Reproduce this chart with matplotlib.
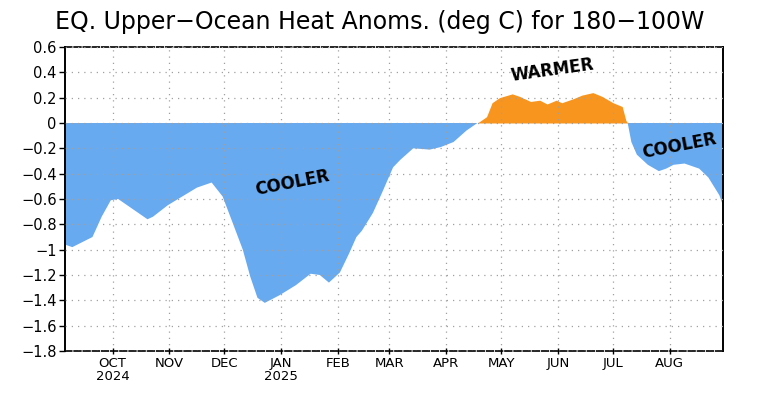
import matplotlib
matplotlib.use("Agg")
import matplotlib.pyplot as plt
import matplotlib.dates as mdates
import numpy as np

# data (dates, anomaly in deg C)
dates = ["2024-09-05", "2024-09-09", "2024-09-20", "2024-09-25", "2024-09-30",
         "2024-10-04", "2024-10-10", "2024-10-20", "2024-10-23", "2024-10-31",
         "2024-11-08", "2024-11-16", "2024-11-24", "2024-11-30", "2024-12-05",
         "2024-12-11", "2024-12-15", "2024-12-19", "2024-12-23", "2024-12-31",
         "2025-01-09", "2025-01-17", "2025-01-22", "2025-01-27", "2025-02-02",
         "2025-02-07", "2025-02-11", "2025-02-14", "2025-02-20", "2025-02-25",
         "2025-03-03", "2025-03-07", "2025-03-14", "2025-03-23", "2025-03-29",
         "2025-04-05", "2025-04-12", "2025-04-18", "2025-04-23", "2025-04-26",
         "2025-04-30", "2025-05-07", "2025-05-11", "2025-05-17", "2025-05-22",
         "2025-05-26", "2025-05-31", "2025-06-03", "2025-06-09", "2025-06-14",
         "2025-06-20", "2025-06-25", "2025-07-01", "2025-07-06", "2025-07-08",
         "2025-07-09", "2025-07-11", "2025-07-14", "2025-07-20", "2025-07-26",
         "2025-07-30", "2025-08-03", "2025-08-09", "2025-08-17", "2025-08-22",
         "2025-08-28", "2025-08-30"]
anom = [-0.96, -0.98, -0.90, -0.74, -0.61,
        -0.60, -0.66, -0.76, -0.74, -0.65,
        -0.58, -0.51, -0.47, -0.58, -0.77,
        -1.00, -1.21, -1.38, -1.42, -1.36,
        -1.28, -1.19, -1.20, -1.26, -1.18,
        -1.03, -0.90, -0.85, -0.71, -0.55,
        -0.35, -0.29, -0.20, -0.21, -0.19,
        -0.15, -0.06, 0.00, 0.05, 0.16,
        0.20, 0.23, 0.21, 0.17, 0.18,
        0.15, 0.18, 0.16, 0.19, 0.22,
        0.24, 0.21, 0.16, 0.13, 0.02,
        0.00, -0.15, -0.25, -0.33, -0.38,
        -0.36, -0.33, -0.32, -0.36, -0.43,
        -0.57, -0.65]

month_ticks = ["2024-10-01", "2024-11-01", "2024-12-01", "2025-01-01", "2025-02-01",
               "2025-03-01", "2025-04-01", "2025-05-01", "2025-06-01", "2025-07-01",
               "2025-08-01"]
month_labels = ["OCT\n2024", "NOV", "DEC", "JAN\n2025", "FEB", "MAR", "APR",
                "MAY", "JUN", "JUL", "AUG"]
y_ticks = np.arange(-1.8, 0.61, 0.2)

t = np.array(dates, dtype="datetime64[D]").astype("O")
v = np.array(anom)

fig = plt.figure(figsize=(7.6, 3.95), dpi=100)
ax = fig.add_axes([65 / 760, 1 - 351 / 395, (723 - 65) / 760, (351 - 47) / 395])

blue = "#68aaef"
orange = "#f7951f"
xt = mdates.date2num(t)
ax.fill_between(xt, v, 0, where=v <= 0, interpolate=True, color=blue, lw=0, zorder=1)
ax.fill_between(xt, v, 0, where=v >= 0, interpolate=True, color=orange, lw=0, zorder=1)

ax.set_xlim(mdates.date2num(np.datetime64("2024-09-05").astype("O")),
            mdates.date2num(np.datetime64("2025-08-30").astype("O")))
ax.set_ylim(-1.8, 0.6)

ax.set_yticks(y_ticks)
ax.set_yticklabels(["0" if abs(y) < 1e-9 else ("%g" % round(y, 1)).replace("-", "\u2212")
                    for y in y_ticks])
mt = mdates.date2num(np.array(month_ticks, dtype="datetime64[D]").astype("O"))
ax.set_xticks(mt)
ax.set_xticklabels(month_labels)

ax.grid(True, color="#a0a0a0", linestyle=(0, (1, 4)), linewidth=0.9, zorder=2)
ax.set_axisbelow(False)

for s in ["left", "right"]:
    ax.spines[s].set_linewidth(1.4)
for s in ["top", "bottom"]:
    ax.spines[s].set_linewidth(1.2)
    ax.spines[s].set_linestyle((0, (4, 1.5)))

ax.tick_params(axis="y", direction="out", length=4, width=1, labelsize=10.5, pad=2)
ax.tick_params(axis="x", direction="inout", length=5, width=1, labelsize=9.5, pad=2)
for lab in ax.get_xticklabels():
    lab.set_linespacing(0.95)

fig.text(55 / 760, 1 - 22 / 395, "EQ. Upper\u2212Ocean Heat Anoms. (deg C) for 180\u2212100W",
         ha="left", va="center", fontsize=17)

ax.text(mdates.date2num(np.datetime64("2025-01-07").astype("O")), -0.47, "COOLER",
        ha="center", va="center", fontsize=12, fontweight="bold", rotation=11, zorder=3)
ax.text(mdates.date2num(np.datetime64("2025-08-06").astype("O")), -0.18, "COOLER",
        ha="center", va="center", fontsize=12, fontweight="bold", rotation=11, zorder=3)
ax.text(mdates.date2num(np.datetime64("2025-05-29").astype("O")), 0.42, "WARMER",
        ha="center", va="center", fontsize=12, fontweight="bold", rotation=8, zorder=3)

fig.savefig("out.png", dpi=100)
